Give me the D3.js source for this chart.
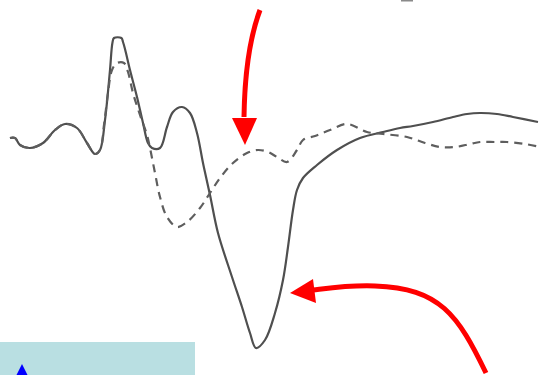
<!DOCTYPE html>
<html>
<head>
<meta charset="utf-8">
<script src="https://cdn.jsdelivr.net/npm/d3@7"></script>
<style>
  html, body { margin: 0; padding: 0; background: #ffffff; }
  svg { display: block; }
</style>
</head>
<body>
<svg id="chart" width="546" height="375"></svg>
<script>
// Waveform recordings: time (ms) and amplitude (arbitrary units)
const solidTime = [0, 2.5, 5, 10, 16.5, 22.5, 27.5, 33.5, 38.5, 42.5, 45, 47.5, 50, 51.2, 52, 55.7, 56.5, 57.5, 60, 63.5, 66.5, 69, 71, 75, 78.5, 81.5, 86, 90, 93.5, 96.5, 100, 104, 111, 116, 120, 123, 127.5, 132.5, 136.5, 139, 141.5, 143.5, 146.5, 153.5, 163.5, 175, 186.5, 195, 201.5, 211.5, 221.5, 228.5, 235, 243.5, 251.5, 264];
const solidAmp  = [0, 0, -0.7, -1.0, -0.5, 0.8, 1.4, 1.0, -0.5, -1.6, -1.2, 1.8, 6.8, 9.5, 10.0, 10.0, 9.6, 8.9, 6.8, 4.1, 1.5, -0.5, -1.0, -1.0, 1.1, 2.6, 3.1, 2.5, 0.5, -2.5, -5.7, -9.5, -13.9, -16.9, -19.5, -21.0, -20.2, -17.5, -14.2, -10.9, -7.2, -5.2, -4.0, -2.7, -1.2, 0, 0.6, 1.0, 1.2, 1.6, 2.1, 2.4, 2.5, 2.4, 2.1, 1.6];

const dashedTime = [0, 2.5, 5, 10, 16.5, 22.5, 27.5, 33.5, 38.5, 42.5, 45, 47, 49, 51, 53.5, 57, 59, 61.5, 65, 68.5, 70, 72.5, 75, 78.5, 83.5, 88.5, 95, 100, 105, 111.5, 118.5, 124, 129, 133.5, 138.5, 143.5, 146.5, 152.5, 160, 168.5, 178.5, 186.5, 198.5, 207.5, 215, 222.5, 230, 235, 242.5, 248.5, 257.5, 265];
const dashedAmp  = [0, 0, -0.7, -1.0, -0.5, 0.8, 1.4, 1.0, -0.5, -1.6, -1.2, 1.3, 4.5, 6.8, 7.5, 7.5, 6.6, 4.5, 2.3, 0.3, -1.0, -3.5, -5.9, -7.9, -8.9, -8.4, -7.0, -5.5, -4.0, -2.5, -1.5, -1.2, -1.4, -1.9, -2.4, -1.2, -0.2, 0.2, 0.8, 1.4, 0.6, 0.4, 0.1, -0.5, -0.9, -0.9, -0.6, -0.4, -0.4, -0.4, -0.6, -0.9];

// Annotation targets [time, amplitude]
const arrowTargets = [[117.5, -0.7], [140, -15.5]];

const svg = d3.select("#chart");

const x = d3.scaleLinear().domain([0, 265]).range([10, 540]);
const y = d3.scaleLinear().domain([-21, 10]).range([348, 38]);

const line = d3.line()
  .x(d => x(d[0]))
  .y(d => y(d[1]))
  .curve(d3.curveCatmullRom.alpha(0.5));

const solid = d3.zip(solidTime, solidAmp);
const dashed = d3.zip(dashedTime, dashedAmp);

svg.append("path")
  .datum(solid)
  .attr("d", line)
  .attr("fill", "none")
  .attr("stroke", "#4f4f4f")
  .attr("stroke-width", 2.2)
  .attr("stroke-linejoin", "round");

svg.append("path")
  .datum(dashed)
  .attr("d", line)
  .attr("fill", "none")
  .attr("stroke", "#5e5e5e")
  .attr("stroke-width", 2.2)
  .attr("stroke-dasharray", "8,6");

// Red callout arrows
const red = "#ff0000";
const ann = svg.append("g");

// Downward arrow onto the dashed trace
{
  const tx = x(arrowTargets[0][0]), ty = y(arrowTargets[0][1]);
  ann.append("path")
    .attr("d", `M${tx + 15},${ty - 135} Q${tx},${ty - 95} ${tx - 1},${ty - 28}`)
    .attr("fill", "none").attr("stroke", red).attr("stroke-width", 5);
  ann.append("path")
    .attr("d", `M${tx},${ty} L${tx - 13},${ty - 27} L${tx + 12},${ty - 27} Z`)
    .attr("fill", red);
}

// Leftward arrow onto the solid trough
{
  const tx = x(arrowTargets[1][0]), ty = y(arrowTargets[1][1]);
  ann.append("path")
    .attr("d", `M${tx + 196},${ty + 80} C${tx + 168},${ty + 22} ${tx + 150},${ty - 5} ${tx + 85},${ty - 7} C${tx + 60},${ty - 8} ${tx + 40},${ty - 5} ${tx + 23},${ty - 3}`)
    .attr("fill", "none").attr("stroke", red).attr("stroke-width", 5);
  ann.append("path")
    .attr("d", `M${tx},${ty} L${tx + 23},${ty - 14} L${tx + 26},${ty + 10} Z`)
    .attr("fill", red);
}

// Fragment of a heading mark at the top edge
svg.append("rect")
  .attr("x", 401).attr("y", 0).attr("width", 12).attr("height", 1.5)
  .attr("fill", "#8a8a8a");

// Light panel in the lower-left corner with a blue pointer
svg.append("rect")
  .attr("x", 0).attr("y", 342).attr("width", 195).attr("height", 40)
  .attr("fill", "#b9dfe2");
svg.append("path")
  .attr("d", "M22,364 L16,376 L28,376 Z")
  .attr("fill", "#0000ff");
</script>
</body>
</html>
